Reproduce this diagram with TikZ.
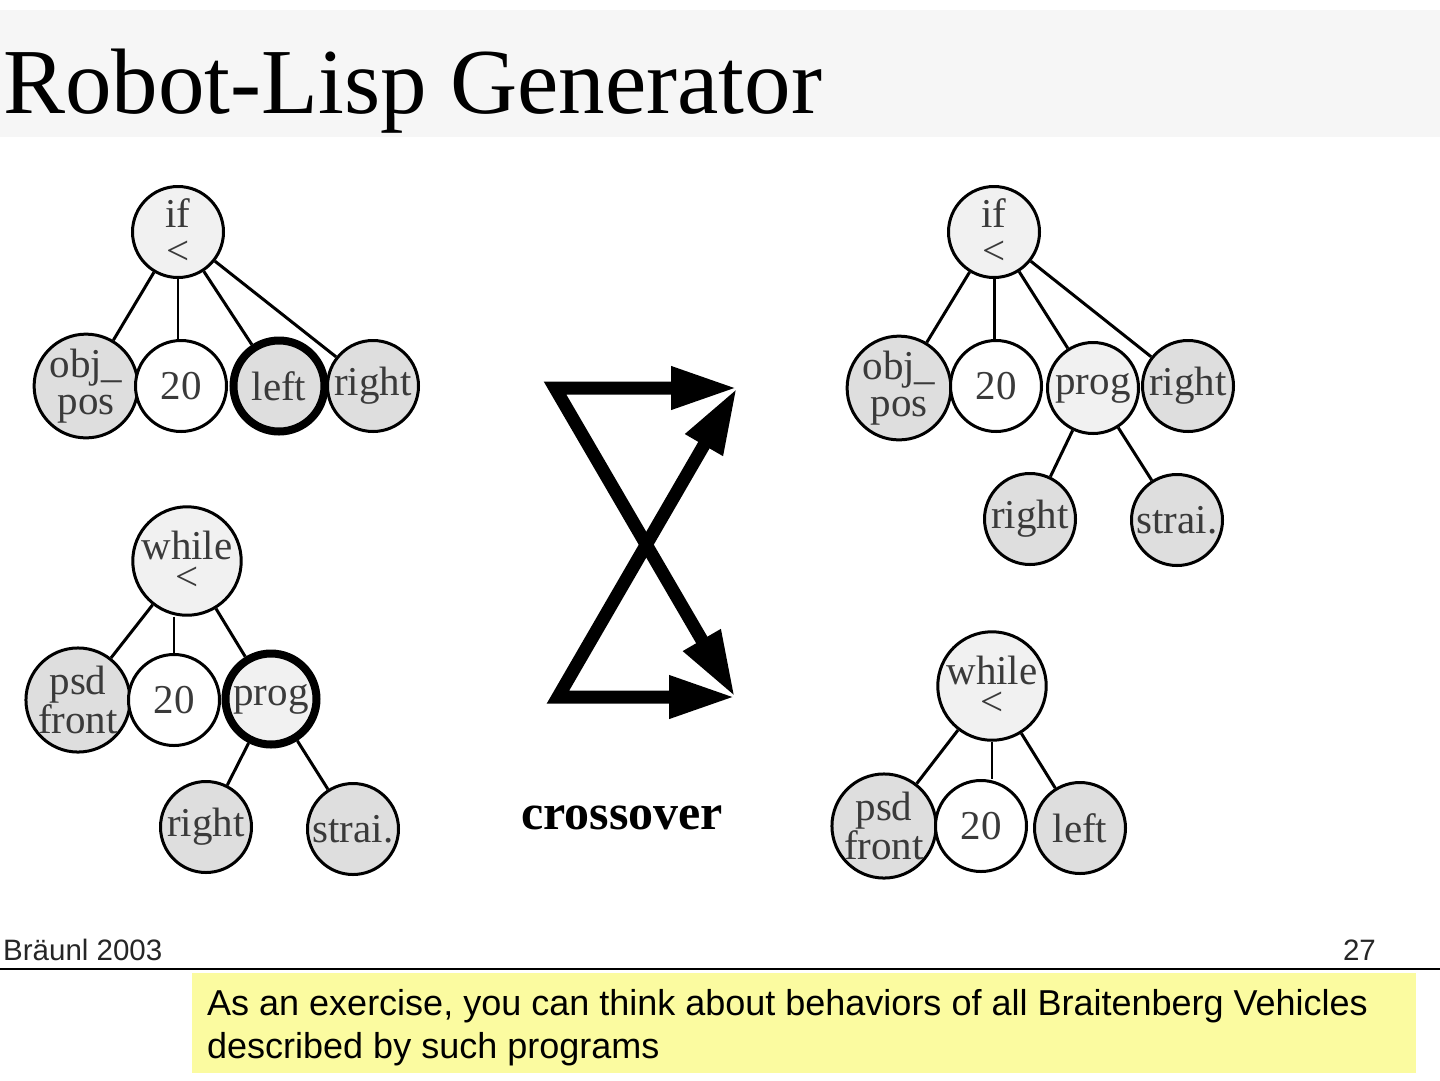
\documentclass[tikz,border=0pt]{standalone}
\usepackage{fontspec}
\setmainfont{Liberation Serif}
\newfontfamily\sansf{Liberation Sans}
\usetikzlibrary{arrows.meta}
\definecolor{leaf}{HTML}{DEDEDE}
\definecolor{inner}{HTML}{F1F1F1}
\definecolor{band}{HTML}{F6F6F6}
\definecolor{ink}{HTML}{3A3A3A}
\definecolor{note}{HTML}{FBFBA0}
\begin{document}
\begin{tikzpicture}[x=1pt,y=-1pt,
  tnode/.style={circle,draw=black,line width=3pt,minimum size=91pt,inner sep=0pt,
    text=ink,align=center,font=\fontsize{41}{37}\selectfont},
  leafn/.style={tnode,fill=leaf},
  innern/.style={tnode,fill=inner},
  numn/.style={tnode,fill=white},
  hot/.style={line width=8pt},
  edge/.style={line width=3pt},
  thinedge/.style={line width=2pt},
  bigarrow/.style={line width=13pt,line join=miter,
    {Triangle[length=66pt,width=40pt]}-{Triangle[length=66pt,width=40pt]}}
]
\useasboundingbox (0,0) rectangle (1440,1080);
\fill[white] (0,0) rectangle (1440,1080);
\fill[band] (0,10) rectangle (1440,137);
\node[anchor=base west,inner sep=0pt,font=\fontsize{93}{93}\selectfont] (title) at (3,113) {Robot-Lisp Generator};

% top-left tree
\node[innern] (a0) at (178,232) {if\\<};
\node[leafn] (a1) at (86,386) {obj\_\\pos};
\node[numn] (a2) at (181,386) {20};
\node[leafn,hot] (a3) at (279,386) {left};
\node[leafn] (a4) at (373,386) {right};
\draw[edge] (a0) -- (a1);
\draw[thinedge] (a0.south) -- (a0.south |- a2.north);
\draw[edge] (a0) -- (a3);
\draw[edge] (a0) -- (a4);

% bottom-left tree
\node[innern,font=\fontsize{41}{31}\selectfont] (b0) at (187,561) {while\\<};
\node[leafn] (b1) at (78,700) {psd\\front};
\node[numn] (b2) at (174,700) {20};
\node[innern,hot] (b3) at (271,699) {prog};
\node[leafn] (b4) at (206,827) {right};
\node[leafn] (b5) at (353,829) {strai.};
\draw[edge] (b0) -- (b1);
\draw[thinedge] (b0.south -| b2.north) -- (b2.north);
\draw[edge] (b0) -- (b3);
\draw[edge] (b3) -- (b4);
\draw[edge] (b3) -- (b5);

% top-right tree
\node[innern] (c0) at (994,232) {if\\<};
\node[leafn] (c1) at (899,388) {obj\_\\pos};
\node[numn] (c2) at (996,386) {20};
\node[innern] (c3) at (1093,388) {prog};
\node[leafn] (c4) at (1188,386) {right};
\node[leafn] (c5) at (1030,519) {right};
\node[leafn] (c6) at (1177,520) {strai.};
\draw[edge] (c0) -- (c1);
\draw[edge] (c0.south) -- (c0.south |- c2.north);
\draw[edge] (c0) -- (c3);
\draw[edge] (c0) -- (c4);
\draw[edge] (c3) -- (c5);
\draw[edge] (c3) -- (c6);

% bottom-right tree
\node[innern,font=\fontsize{41}{31}\selectfont] (d0) at (992,686) {while\\<};
\node[leafn] (d1) at (884,826) {psd\\front};
\node[numn] (d2) at (981,826) {20};
\node[leafn] (d3) at (1080,828) {left};
\draw[edge] (d0) -- (d1);
\draw[thinedge] (d0.south) -- (d0.south |- d2.north);
\draw[edge] (d0) -- (d3);

% crossover arrows
\coordinate (TL) at (555,388);
\coordinate (TR) at (737,388);
\coordinate (BL) at (558,697);
\coordinate (BR) at (735,697);
\draw[bigarrow] (TR) -- (TL) -- (BR);
\draw[bigarrow] (BR) -- (BL) -- (TR);
\node[font=\bfseries\fontsize{50}{50}\selectfont,inner sep=0pt,anchor=base] (cross) at (622,829) {crossover};

% footer
\node[anchor=base west,inner sep=0pt,font=\sansf\fontsize{29.5}{29.5}\selectfont,text=black!85] (author) at (3,960) {Bräunl 2003};
\node[anchor=base east,inner sep=0pt,font=\sansf\fontsize{29.5}{29.5}\selectfont,text=black!85] (page) at (1376,960) {27};
\draw[line width=2pt] (0,969) -- (1440,969);
\fill[note] (192,973) rectangle (1416,1073);
\node[anchor=base west,inner sep=0pt,align=left,font=\sansf\fontsize{36}{43}\selectfont] (notetext) at (207,1058)
  {As an exercise, you can think about behaviors of all Braitenberg Vehicles\\described by such programs};
\end{tikzpicture}
\end{document}
